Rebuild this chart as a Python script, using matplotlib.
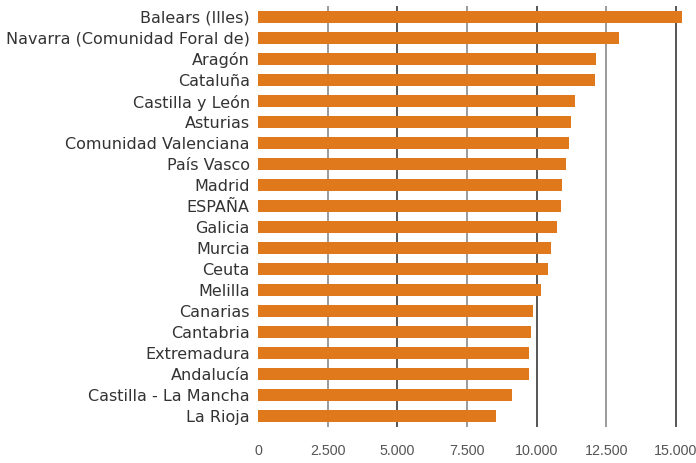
import matplotlib
matplotlib.use('Agg')
import matplotlib.pyplot as plt
import numpy as np

regions = ['Balears (Illes)', 'Navarra (Comunidad Foral de)', 'Aragón', 'Cataluña',
           'Castilla y León', 'Asturias', 'Comunidad Valenciana', 'País Vasco',
           'Madrid', 'ESPAÑA', 'Galicia', 'Murcia', 'Ceuta', 'Melilla', 'Canarias',
           'Cantabria', 'Extremadura', 'Andalucía', 'Castilla - La Mancha', 'La Rioja']
values = [15225, 12960, 12135, 12100, 11380, 11240, 11165, 11060, 10915, 10880,
          10735, 10520, 10410, 10160, 9875, 9800, 9730, 9730, 9120, 8545]
xticks = [0, 2500, 5000, 7500, 10000, 12500, 15000]
xticklabels = ['0', '2.500', '5.000', '7.500', '10.000', '12.500', '15.000']

fig = plt.figure(figsize=(6.96, 4.63), dpi=100)
ax = fig.add_axes([258/696, 36/463, 429/696, 421/463])

y = np.arange(len(regions))
ax.barh(y, values, height=0.57, color='#E0781C', zorder=2)
ax.set_ylim(len(regions) - 0.5, -0.52)
ax.set_xlim(0, 15400)

for i, t in enumerate(xticks[1:]):
    ax.axvline(t, color='#3a3a3a' if i % 2 else '#8a8a8a', linewidth=1.2, zorder=1)

ax.set_yticks(y)
ax.set_yticklabels(regions, fontsize=11.5, color='#333333', family='DejaVu Sans')
ax.set_xticks(xticks)
ax.set_xticklabels(xticklabels, fontsize=10.3, color='#555555', family='Liberation Sans')
ax.tick_params(axis='y', length=0, pad=6)
ax.tick_params(axis='x', length=0, pad=12)
for s in ax.spines.values():
    s.set_visible(False)

fig.savefig('out.png', dpi=100)
